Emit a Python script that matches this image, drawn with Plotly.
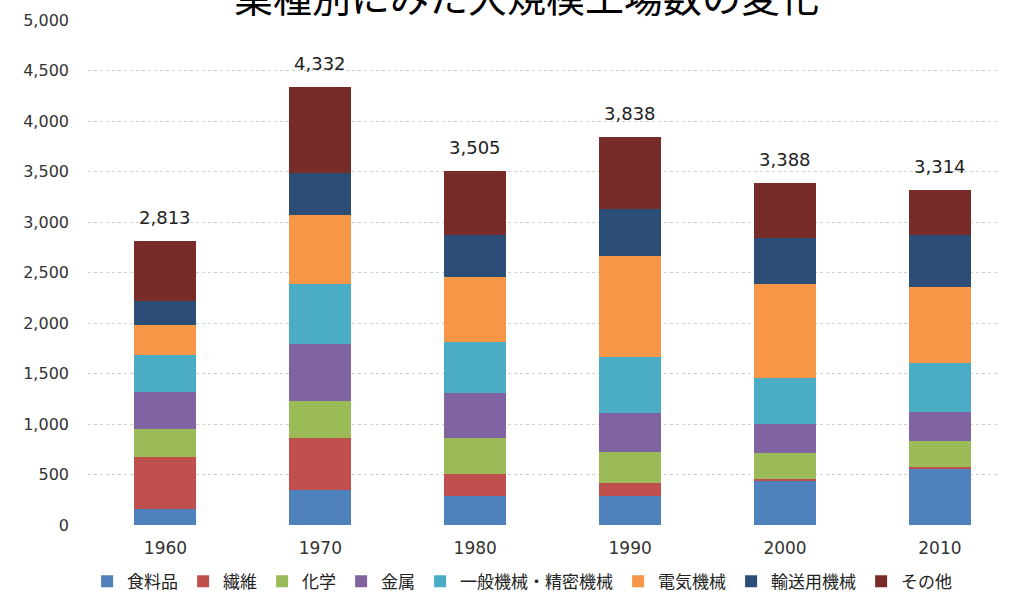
import plotly.graph_objects as go

years = ["1960", "1970", "1980", "1990", "2000", "2010"]

industries = ["食料品", "繊維", "化学", "金属", "一般機械・精密機械", "電気機械", "輸送用機械", "その他"]

food = [162, 348, 291, 288, 440, 553]
textile = [510, 510, 216, 126, 14, 20]
chemical = [278, 367, 351, 305, 255, 260]
metal = [363, 564, 452, 390, 295, 288]
general_machinery = [370, 594, 499, 554, 450, 479]
electrical = [297, 686, 650, 1000, 935, 758]
transport = [241, 413, 409, 466, 448, 513]
other = [592, 850, 637, 709, 551, 443]

colors = ["#4F81BD", "#C0504D", "#9BBB59", "#8064A2", "#4BACC6", "#F79646", "#2C4D75", "#772C2A"]

series = [food, textile, chemical, metal, general_machinery, electrical, transport, other]

fig = go.Figure()
for name, vals, col in zip(industries, series, colors):
    fig.add_trace(go.Bar(
        x=years, y=vals, name=name,
        marker=dict(color=col, line=dict(width=0)),
        hovertemplate="%{x} " + name + ": %{y:,}<extra></extra>",
    ))

# stacked totals written above each column
totals = [sum(v) for v in zip(*series)]
for i, tot in enumerate(totals):
    fig.add_annotation(
        x=i, y=tot, xref="x", yref="y", text=f"{tot:,}", showarrow=False,
        yanchor="bottom", yshift=11,
        font=dict(family="DejaVu Sans", size=18, color="#222222"),
    )

# chart heading sits at the very top edge of the page
fig.add_annotation(
    x=0.481, y=1.049, xref="paper", yref="paper",
    xanchor="center", yanchor="middle", showarrow=False,
    text="業種別にみた大規模工場数の変化",
    font=dict(family="Noto Sans CJK JP", size=39, color="#000000"),
)

fig.update_layout(
    width=1013, height=596,
    margin=dict(l=88, r=13, t=20, b=71, autoexpand=False),
    barmode="stack",
    bargap=0.6,
    plot_bgcolor="white",
    paper_bgcolor="white",
    xaxis=dict(
        type="category",
        range=[-0.5, 5.388],
        showgrid=False, zeroline=False, showline=False,
        ticks="", ticklabelstandoff=11,
        tickfont=dict(family="DejaVu Sans", size=17, color="#333333"),
    ),
    yaxis=dict(
        range=[0, 5000], dtick=500, tickformat=",",
        showgrid=True, gridcolor="#d0d0d0", griddash="dot", gridwidth=1,
        zeroline=False, showline=False, ticks="",
        ticklabelstandoff=18,
        tickfont=dict(family="DejaVu Sans", size=16, color="#333333"),
    ),
    legend=dict(
        orientation="h", x=0.476, xanchor="center",
        y=0.024, yref="container", yanchor="middle",
        traceorder="normal",
        font=dict(family="Noto Sans CJK JP", size=17, color="#222222"),
        itemwidth=30, tracegroupgap=0,
    ),
    showlegend=True,
)

fig.write_html("out.html")
